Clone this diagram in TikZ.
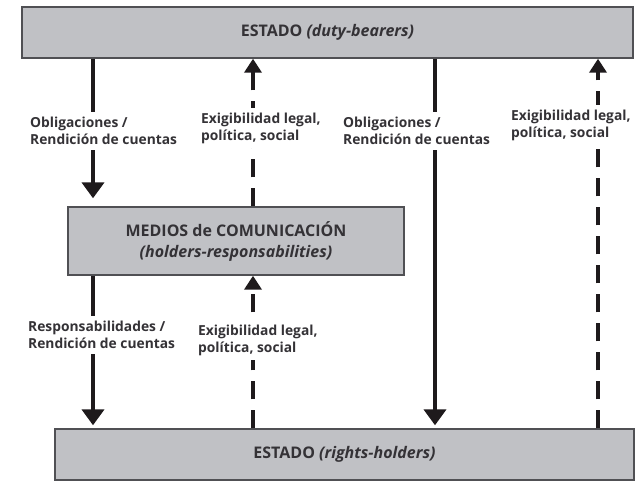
\documentclass[tikz,border=0pt]{standalone}
\usepackage{fontspec}
\setmainfont{Open Sans}
\usetikzlibrary{arrows.meta}
\definecolor{boxfill}{RGB}{192,193,197}
\definecolor{boxline}{RGB}{80,80,84}
\definecolor{ink}{RGB}{30,26,28}
\definecolor{txt}{RGB}{52,50,54}
\tikzset{
  bar/.style={draw=boxline, line width=1.4pt, fill=boxfill, inner sep=0pt, text=txt, font=\bfseries\fontsize{16}{21}\selectfont, align=center},
  solidarr/.style={draw=ink, line width=4pt, -{Triangle[width=22pt,length=16pt]}},
  dasharr/.style={draw=ink, line width=4pt, dash pattern=on 18pt off 11pt, -{Triangle[width=17pt,length=14pt]}},
  lbl/.style={fill=white, text=txt, font=\bfseries\fontsize{13.8}{17}\selectfont, align=left, inner xsep=1pt, inner ysep=5pt, anchor=west},
}
\begin{document}
\begin{tikzpicture}[x=1pt,y=-1pt]
\useasboundingbox[fill=white] (0,0) rectangle (635,482);
\node[bar, minimum width=611pt, minimum height=51pt] (top) at (327.5,32.5) {ESTADO \textit{(duty-bearers)}};
\node[bar, minimum width=336pt, minimum height=68pt] (mid) at (236,241) {MEDIOS de COMUNICACIÓN\\\textit{(holders-responsabilities)}};
\node[bar, minimum width=579pt, minimum height=51pt] (bot) at (344.5,454.5) {ESTADO \textit{(rights-holders)}};
\coordinate (c1) at (93,0);
\coordinate (c2) at (253,0);
\coordinate (c3) at (435,0);
\coordinate (c4) at (598,0);
\draw[solidarr] (top.south -| c1) -- ([yshift=8pt]mid.north -| c1);
\draw[dasharr] (mid.north -| c2) -- (top.south -| c2);
\draw[solidarr] (top.south -| c3) -- ([yshift=3pt]bot.north -| c3);
\draw[dasharr] (bot.north -| c4) -- (top.south -| c4);
\draw[solidarr] (mid.south -| c1) -- ([yshift=3pt]bot.north -| c1);
\draw[dasharr] (bot.north -| c2) -- (mid.south -| c2);
\node[lbl] (l1) at (29,131) {Obligaciones /\\Rendición de cuentas};
\node[lbl] (l2) at (200,128) {Exigibilidad legal,\\política, social};
\node[lbl] (l3) at (342,131) {Obligaciones /\\Rendición de cuentas};
\node[lbl] (l4) at (510,125) {Exigibilidad legal,\\política, social};
\node[lbl] (l5) at (27,335) {Responsabilidades /\\Rendición de cuentas};
\node[lbl] (l6) at (197,340) {Exigibilidad legal,\\política, social};
\end{tikzpicture}
\end{document}
